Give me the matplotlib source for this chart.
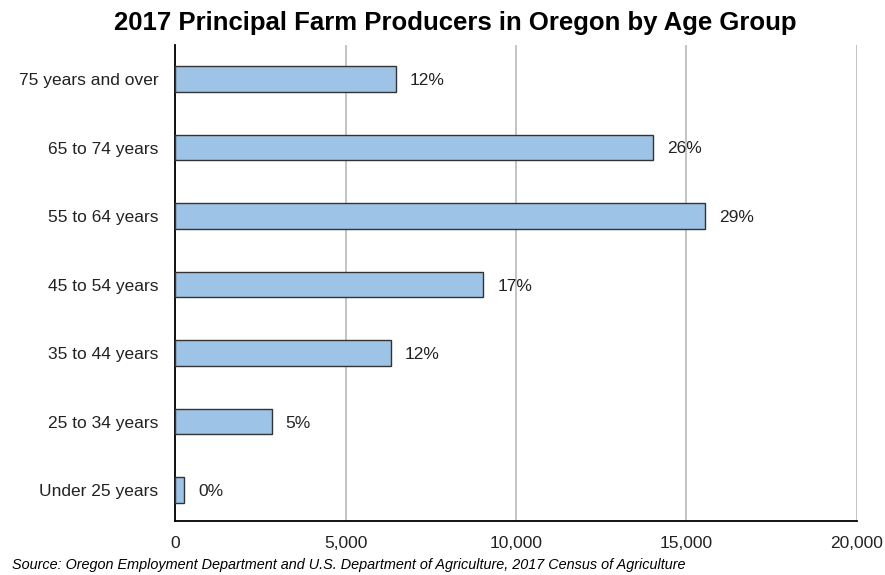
import matplotlib.pyplot as plt
from matplotlib.ticker import FuncFormatter

plt.rcParams['font.family'] = ['Liberation Sans', 'DejaVu Sans']

groups = ['Under 25 years', '25 to 34 years', '35 to 44 years', '45 to 54 years',
          '55 to 64 years', '65 to 74 years', '75 years and over']
producers = [266, 2835, 6320, 9040, 15560, 14020, 6480]
shares = ['0%', '5%', '12%', '17%', '29%', '26%', '12%']

fig = plt.figure(figsize=(8.85, 5.75), dpi=100)
ax = fig.add_axes([0.198, 0.094, 0.77, 0.828])

ax.barh(groups, producers, height=0.37, color='#9DC3E6', edgecolor='#333333', linewidth=1.0, zorder=3)

for i, (v, s) in enumerate(zip(producers, shares)):
    ax.annotate(s, (v, i), xytext=(10, -1), textcoords='offset points',
                va='center', ha='left', fontsize=12.5, color='#222222')

ax.set_xlim(0, 20000)
ax.set_ylim(-0.45, 6.5)
ax.set_xticks([0, 5000, 10000, 15000, 20000])
ax.xaxis.set_major_formatter(FuncFormatter(lambda x, p: f'{int(x):,}'))
ax.grid(axis='x', color='#BFBFBF', linewidth=1.3, zorder=0)
ax.tick_params(axis='both', length=0, labelsize=12.5, colors='#222222')
ax.tick_params(axis='x', pad=11)
ax.tick_params(axis='y', pad=12)

for side in ['top', 'right']:
    ax.spines[side].set_visible(False)
for side in ['left', 'bottom']:
    ax.spines[side].set_color('black')
    ax.spines[side].set_linewidth(1.3)

fig.text(0.514, 0.96, '2017 Principal Farm Producers in Oregon by Age Group',
         ha='center', va='center', fontsize=18.5, fontweight='bold')
fig.text(0.013, 0.017, 'Source: Oregon Employment Department and U.S. Department of Agriculture, 2017 Census of Agriculture',
         ha='left', va='center', fontsize=10.4, style='italic')

fig.savefig('out.png', dpi=100)
